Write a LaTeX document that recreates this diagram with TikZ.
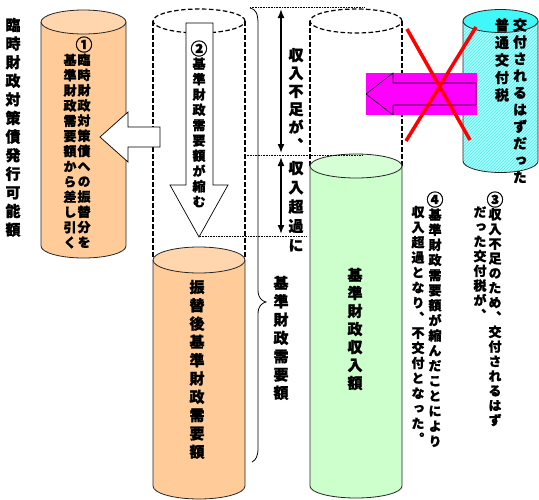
\documentclass[tikz,border=0pt]{standalone}
\usepackage{graphicx}
\usepackage{fontspec}
\newfontfamily\cjk[RawFeature=+vert,BoldFeatures={FakeBold=1.2}]{Noto Sans CJK JP}
\usetikzlibrary{patterns,arrows.meta}
\definecolor{orbody}{HTML}{FFCC99}
\definecolor{ortop}{HTML}{FFD6AE}
\definecolor{grbody}{HTML}{CCFFCC}
\definecolor{grtop}{HTML}{D6FFD6}
\definecolor{cybody}{HTML}{A8FFFF}
\definecolor{cyhatch}{HTML}{55E6E6}
\definecolor{cytop}{HTML}{40F8F8}
\definecolor{mag}{HTML}{FF00FF}
\newcommand\cA{\raisebox{-0.11em}{\scalebox{1.3}{①}}}
\newcommand\cB{\raisebox{-0.11em}{\scalebox{1.3}{②}}}
\newcommand\cC{\raisebox{-0.11em}{\scalebox{1.3}{③}}}
\newcommand\cD{\raisebox{-0.11em}{\scalebox{1.3}{④}}}
\def\tateloop#1{\ifx\relax#1\else\hbox to 1em{\hss\vrule height .88em depth .12em width 0pt\relax#1\hss}\expandafter\tateloop\fi}
\newcommand\tate[3]{\fontsize{#1pt}{#2pt}\selectfont\cjk\bfseries\vbox{\baselineskip=#2pt\lineskip=0pt\lineskiplimit=-\maxdimen\tateloop#3\relax}}
\newcommand\cylinder[7]{%
  \pgfmathsetmacro\crx{(#2-#1)/2}%
  \path[#6] (#1,#3) -- (#1,#4) arc[start angle=180,end angle=360,x radius=\crx pt,y radius=#5pt] -- (#2,#3) -- cycle;
  \draw[cylline] (#1,#3) -- (#1,#4) arc[start angle=180,end angle=360,x radius=\crx pt,y radius=#5pt] -- (#2,#3);
  \path[#7] ({(#1+#2)/2},#3) ellipse[x radius=\crx pt,y radius=#5pt];
}
\tikzset{
  cylline/.style={draw=black!85,line width=0.8pt},
  dashcyl/.style={draw=black,line width=1.2pt,dash pattern=on 4.5pt off 2.5pt},
  dotline/.style={draw=black,line width=0.9pt,dash pattern=on 0.8pt off 0.8pt},
  dbl/.style={line width=1.6pt,{Latex[length=9pt,width=7pt]}-{Latex[length=9pt,width=7pt]}},
  warrow/.style={draw=black,fill=white,line width=0.7pt,line join=miter},
  tx/.style={inner sep=0pt,outer sep=0pt,anchor=north},
}
\begin{document}
\begin{tikzpicture}[x=1pt,y=-1pt]
\useasboundingbox (0,0) rectangle (539,499);
\fill[white] (0,0) rectangle (539,499);
% dashed cylinders
\draw[dashcyl] (199,21) ellipse[x radius=46pt,y radius=12pt];
\draw[dashcyl] (153,21) -- (153,258);
\draw[dashcyl] (245,21) -- (245,258);
\draw[dashcyl] (356,21) ellipse[x radius=46pt,y radius=12pt];
\draw[dashcyl] (310,21) -- (310,166);
\draw[dashcyl] (402,21) -- (402,166);
% solid cylinders
\cylinder{41}{126}{22}{246}{12}{fill=orbody}{fill=ortop,draw=black!85,line width=0.8pt}
\cylinder{153}{245}{260}{486}{13}{fill=orbody}{fill=ortop,draw=black!85,line width=0.8pt}
\cylinder{310}{402}{166}{486}{12}{fill=grbody}{fill=grtop,draw=black!85,line width=0.8pt}
\cylinder{463}{538}{21}{161}{11.5}{fill=cybody,postaction={pattern=north east lines,pattern color=cyhatch}}{fill=cytop,draw=black!85,line width=0.8pt}
% white arrows
\draw[warrow] (160,127) -- (128,127) -- (128,112) -- (100,137) -- (128,162) -- (128,147) -- (160,147) -- cycle;
\draw[warrow] (186,23) -- (213,23) -- (213,185) -- (228,185) -- (199,237) -- (170,185) -- (186,185) -- cycle;
% brace
\draw[line width=0.8pt] (250,8) .. controls (256,9) and (258,14) .. (258,24) -- (258,290) .. controls (258,298) and (262,301) .. (266,302) .. controls (262,303) and (258,306) .. (258,314) -- (258,448) .. controls (258,456) and (256,460) .. (252,462);
% dotted level lines
\coordinate (d1a) at (250,7); \coordinate (d1b) at (365,7);
\coordinate (d2a) at (245,155); \coordinate (d2b) at (362,155);
\coordinate (d3a) at (200,236); \coordinate (d3b) at (307,236);
\draw[dotline] (d1a) -- (d1b);
\draw[dotline] (d2a) -- (d2b);
\draw[dotline] (d3a) -- (d3b);
% double arrows
\coordinate (a1) at (281,9); \coordinate (a2) at (281,153);
\coordinate (a3) at (281,157); \coordinate (a4) at (281,234);
\draw[dbl] (a1) -- (a2);
\draw[dbl] (a3) -- (a4);
% magenta box with arrow
\fill[mag] (366,73) rectangle (477,115);
\draw[draw=black,fill=mag,line width=0.6pt] (476,83) -- (393,83) -- (393,73) -- (366,94) -- (393,115) -- (393,105) -- (476,105) -- cycle;
% red cross
\coordinate (x1) at (407,29); \coordinate (x2) at (470,140);
\coordinate (x3) at (476,27); \coordinate (x4) at (406,141);
\draw[red,line width=3.5pt] (x1) -- (x2);
\draw[red,line width=3.5pt] (x3) -- (x4);
% texts
\node[tx] (t1) at (13,17.5) {\tate{15}{18.6}{臨時財政対策債発行可能額}};
\node[tx] (t2) at (84,36.5) {\tate{13}{15.2}{\cA 臨時財政対策債への振替分を}};
\node[tx] (t3) at (70,53.5) {\tate{13}{15.2}{基準財政需要額から差し引く}};
\node[tx] (t4) at (199,40.5) {\tate{13}{15.3}{\cB 基準財政需要額が縮む}};
\node[tx] (t5) at (296,47.5) {\tate{15}{18}{収入不足が、}};
\node[tx] (t6) at (296,160.5) {\tate{15}{19.3}{収入超過に}};
\node[tx] (t7) at (281,275.5) {\tate{15}{18.3}{基準財政需要額}};
\node[tx] (t8) at (197,279.5) {\tate{15}{18.3}{振替後基準財政需要額}};
\node[tx] (t9) at (355,267.5) {\tate{15}{18}{基準財政収入額}};
\node[tx] (t10) at (520,18) {\tate{14}{16.9}{交付されるはずだった}};
\node[tx] (t11) at (502,18) {\tate{14}{17.5}{普通交付税}};
\node[tx] (t12) at (495,191.5) {\tate{13}{14.7}{\cC 収入不足のため、交付されるはず}};
\node[tx] (t13) at (480,205.5) {\tate{13}{14.7}{だった交付税が、}};
\node[tx] (t14) at (435,191.5) {\tate{13}{15.1}{\cD 基準財政需要額が縮んだことにより}};
\node[tx] (t15) at (418,205.5) {\tate{13}{15.1}{収入超過となり、不交付となった。}};
\end{tikzpicture}
\end{document}
